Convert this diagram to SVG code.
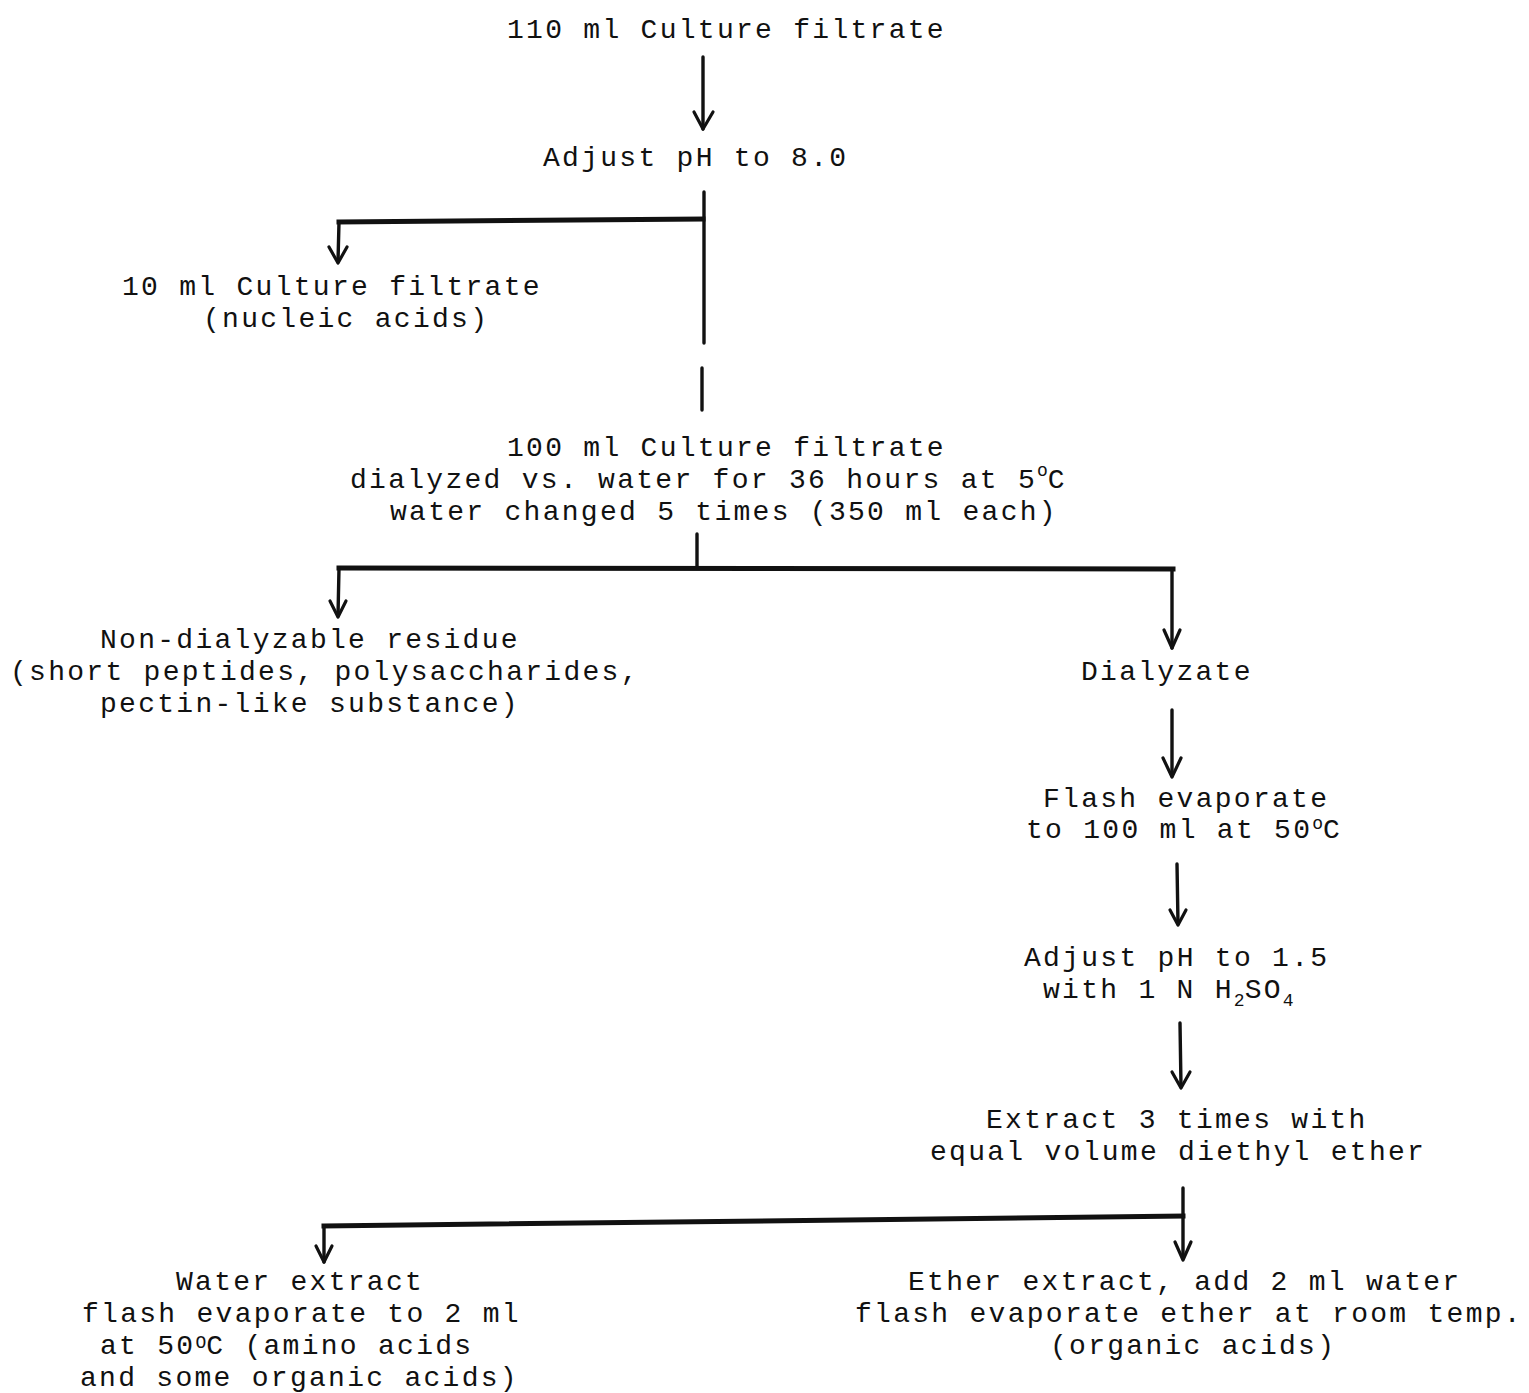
<svg xmlns="http://www.w3.org/2000/svg" width="1529" height="1393" viewBox="0 0 1529 1393">
<style>
text{font-family:"Liberation Mono","DejaVu Sans Mono",monospace;font-size:28px;letter-spacing:2.28px;fill:#111}
.sup{font-size:18px;letter-spacing:0}
.ln{stroke:#111;stroke-width:3.4;fill:none;stroke-linecap:round}
.hz{stroke:#111;stroke-width:5;fill:none;stroke-linecap:square}
.ah{stroke:#111;stroke-width:3.2;fill:none;stroke-linecap:round;stroke-linejoin:round}
</style>
<rect width="1529" height="1393" fill="#fff"/>
<g id="connectors">
<line class="ln" x1="703" y1="57" x2="703" y2="129"/>
<polyline class="ah" points="694,112 703,129 713,112"/>
<line class="ln" x1="704" y1="192" x2="704" y2="343"/>
<line class="ln" x1="702" y1="368" x2="702" y2="410"/>
<line class="hz" x1="339" y1="222" x2="703" y2="219"/>
<line class="ln" x1="339" y1="222" x2="338" y2="262"/>
<polyline class="ah" points="329,247 338,263 347,247"/>
<line class="ln" x1="697" y1="534" x2="697" y2="568"/>
<line class="hz" x1="339" y1="568" x2="1173" y2="569"/>
<line class="ln" x1="339" y1="568" x2="338" y2="616"/>
<polyline class="ah" points="330,601 338,617 346,601"/>
<line class="ln" x1="1172" y1="570" x2="1172" y2="648"/>
<polyline class="ah" points="1164,630 1172,648 1180,630"/>
<line class="ln" x1="1172" y1="710" x2="1172" y2="776"/>
<polyline class="ah" points="1163,758 1172,777 1181,758"/>
<line class="ln" x1="1177" y1="864" x2="1178" y2="924"/>
<polyline class="ah" points="1170,910 1178,925 1186,910"/>
<line class="ln" x1="1180" y1="1023" x2="1181" y2="1087"/>
<polyline class="ah" points="1172,1072 1181,1088 1190,1072"/>
<line class="ln" x1="1183" y1="1188" x2="1183" y2="1258"/>
<polyline class="ah" points="1175,1242 1183,1260 1191,1242"/>
<line class="hz" x1="324" y1="1226" x2="1183" y2="1216"/>
<line class="ln" x1="324" y1="1226" x2="324" y2="1262"/>
<polyline class="ah" points="316,1246 324,1262 332,1246"/>
</g>
<g id="n1"><text x="507" y="38">110 ml Culture filtrate</text></g>
<g id="n2"><text x="543" y="166">Adjust pH to 8.0</text></g>
<g id="n3"><text x="122" y="295">10 ml Culture filtrate</text><text x="203" y="327">(nucleic acids)</text></g>
<g id="n4"><text x="507" y="456">100 ml Culture filtrate</text>
<text x="350" y="488">dialyzed vs. water for 36 hours at 5<tspan class="sup" dy="-12">o</tspan><tspan dy="12">C</tspan></text>
<text x="390" y="520">water changed 5 times (350 ml each)</text></g>
<g id="n5"><text x="100" y="648">Non-dialyzable residue</text><text x="10" y="680">(short peptides, polysaccharides,</text><text x="100" y="712">pectin-like substance)</text></g>
<g id="n6"><text x="1081" y="680">Dialyzate</text></g>
<g id="n7"><text x="1043" y="807">Flash evaporate</text><text x="1026" y="838">to 100 ml at 50<tspan class="sup" dy="-9">o</tspan><tspan dy="9">C</tspan></text></g>
<g id="n8"><text x="1024" y="966">Adjust pH to 1.5</text><text x="1043" y="998">with 1 N H<tspan class="sup" dy="8">2</tspan><tspan dy="-8">SO</tspan><tspan class="sup" dy="8">4</tspan></text></g>
<g id="n9"><text x="986" y="1128">Extract 3 times with</text><text x="930" y="1160">equal volume diethyl ether</text></g>
<g id="n10"><text x="176" y="1290">Water extract</text><text x="82" y="1322">flash evaporate to 2 ml</text><text x="100" y="1354">at 50<tspan class="sup" dy="-6">O</tspan><tspan dy="6">C (amino acids</tspan></text><text x="80" y="1386">and some organic acids)</text></g>
<g id="n11"><text x="908" y="1290">Ether extract, add 2 ml water</text><text x="855" y="1322">flash evaporate ether at room temp.</text><text x="1050" y="1354">(organic acids)</text></g>
</svg>
